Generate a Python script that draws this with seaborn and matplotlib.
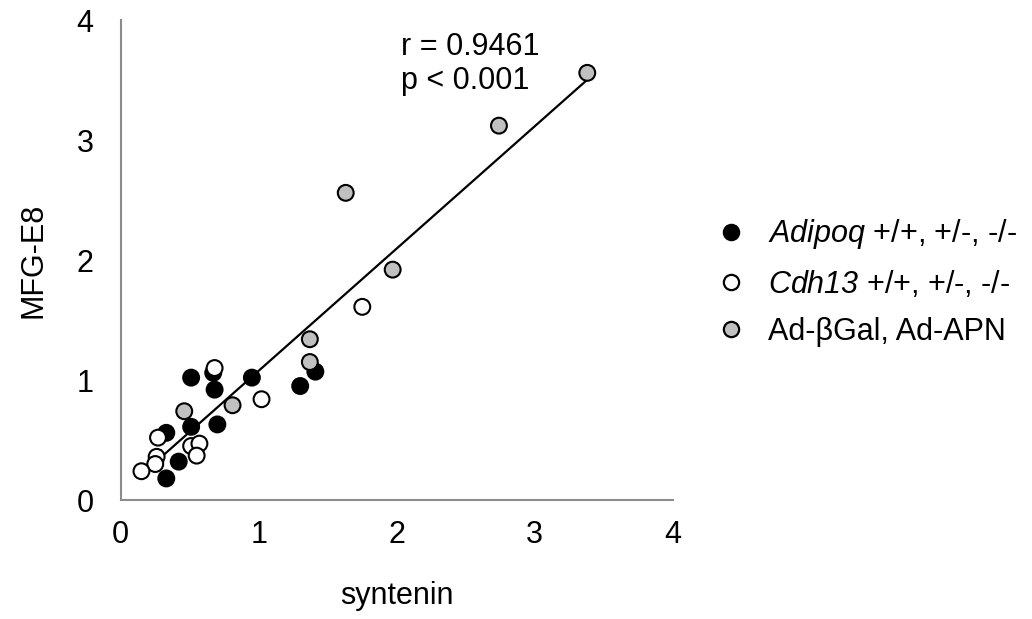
import pandas as pd
import seaborn as sns
import matplotlib.pyplot as plt

# values
adipoq_x = [0.51, 0.67, 0.68, 0.95, 0.70, 0.51, 0.33, 0.42, 0.33, 1.30, 1.41]
adipoq_y = [1.02, 1.06, 0.92, 1.02, 0.63, 0.61, 0.56, 0.32, 0.18, 0.95, 1.07]

cdh13_x = [0.68, 1.02, 0.27, 0.51, 0.57, 0.55, 0.26, 0.25, 0.15, 1.75]
cdh13_y = [1.10, 0.84, 0.52, 0.45, 0.47, 0.37, 0.36, 0.30, 0.24, 1.61]

ad_x = [0.46, 0.81, 1.37, 1.37, 1.97, 1.63, 2.74, 3.38]
ad_y = [0.74, 0.79, 1.34, 1.15, 1.92, 2.56, 3.12, 3.56]

labels = [r"$\mathit{Adipoq}$ +/+, +/-, -/-",
          r"$\mathit{Cdh13}$ +/+, +/-, -/-",
          "Ad-βGal, Ad-APN"]
colors = ["black", "white", "#c0c0c0"]

df = pd.DataFrame({
    "syntenin": adipoq_x + cdh13_x + ad_x,
    "MFG-E8": adipoq_y + cdh13_y + ad_y,
    "group": [labels[0]] * len(adipoq_x) + [labels[1]] * len(cdh13_x) + [labels[2]] * len(ad_x),
})

sns.set_style("white")
plt.rcParams["font.family"] = ["Liberation Sans", "DejaVu Sans"]
plt.rcParams["mathtext.fontset"] = "custom"
plt.rcParams["mathtext.it"] = "Liberation Sans:italic"
plt.rcParams["mathtext.rm"] = "Liberation Sans:italic"  # italic digits in Cdh13
plt.rcParams["text.color"] = "black"
plt.rcParams["axes.labelcolor"] = "black"

fig = plt.figure(figsize=(10.32, 6.19), dpi=100)
ax = fig.add_axes([0.117, 0.1922, 0.535, 0.7754])

sns.regplot(data=df, x="syntenin", y="MFG-E8", scatter=False, ci=None,
            color="black", line_kws={"linewidth": 1.6, "zorder": 1}, ax=ax)
sns.scatterplot(data=df, x="syntenin", y="MFG-E8", hue="group",
                palette=dict(zip(labels, colors)), edgecolor="black",
                linewidth=1.5, s=130, ax=ax, zorder=3, legend=False)

ax.set_xlim(0, 4)
ax.set_ylim(0, 4)
ax.set_xticks([0, 1, 2, 3, 4])
ax.set_yticks([0, 1, 2, 3, 4])
ax.set_xlabel("syntenin", fontsize=22, labelpad=22, color="black")
ax.set_ylabel("MFG-E8", fontsize=22, labelpad=20, color="black")
ax.tick_params(axis="both", labelsize=22, length=6.5, width=1.5, color="#8c8c8c",
               labelcolor="black", direction="out")
ax.tick_params(axis="x", pad=8)
ax.tick_params(axis="y", pad=13)
sns.despine(ax=ax)
for sp in ["left", "bottom"]:
    ax.spines[sp].set_color("#8c8c8c")
    ax.spines[sp].set_linewidth(1.5)

ax.text(2.03, 3.90, "r = 0.9461\np < 0.001", fontsize=22, va="top", ha="left",
        linespacing=1.15, color="black")

handles = [plt.Line2D([], [], marker="o", linestyle="", markersize=11,
                      markerfacecolor=c, markeredgecolor="black", markeredgewidth=1.6)
           for c in colors]
fig.legend(handles, labels, loc="center left", bbox_to_anchor=(0.676, 0.544),
           frameon=False, fontsize=22, handletextpad=0.6, labelspacing=0.57,
           handlelength=1.2, borderpad=0, labelcolor="black")

plt.savefig("out.png", dpi=100)
